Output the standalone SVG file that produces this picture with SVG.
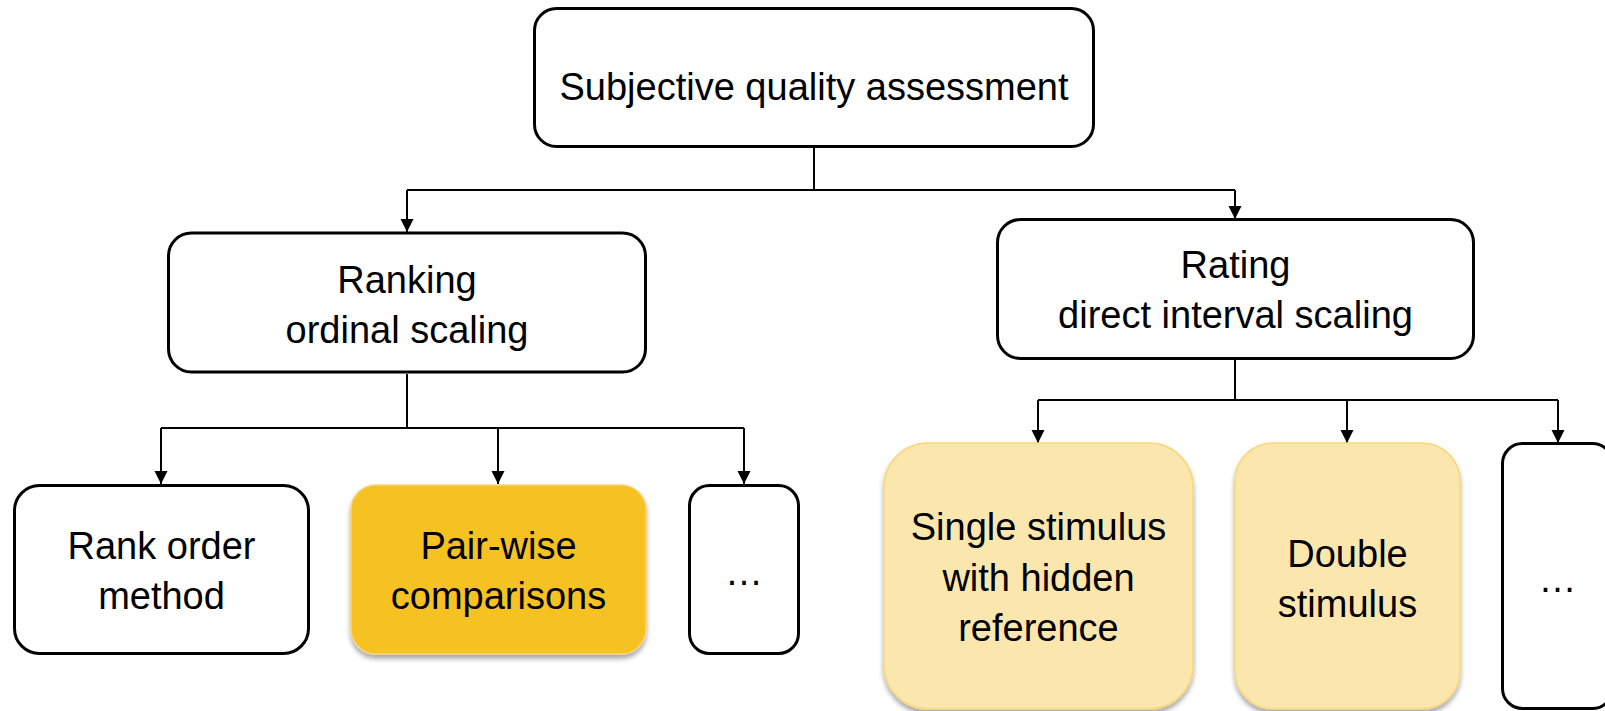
<svg xmlns="http://www.w3.org/2000/svg" width="1605" height="711" viewBox="0 0 1605 711">
  <defs>
    <marker id="arrow" markerWidth="14" markerHeight="14" refX="13" refY="6.5" orient="auto" markerUnits="userSpaceOnUse">
      <path d="M0,0 L13,6.5 L0,13 Z" fill="#000"/>
    </marker>
    <filter id="shadow" x="-10%" y="-10%" width="120%" height="125%">
      <feGaussianBlur in="SourceAlpha" stdDeviation="2.5"/>
      <feOffset dx="0" dy="4" result="blur"/>
      <feComponentTransfer><feFuncA type="linear" slope="0.35"/></feComponentTransfer>
      <feMerge><feMergeNode/><feMergeNode in="SourceGraphic"/></feMerge>
    </filter>
    <style>
      .box { fill: #fff; stroke: #000; stroke-width: 3; }
      .gold { fill: #F6C223; stroke: #F8D27A; stroke-width: 1.5; }
      .pale { fill: #FBE7AE; stroke: #F8D77B; stroke-width: 1.5; }
      .lbl { font-family: "Liberation Sans", Arial, sans-serif; font-size: 38px; fill: #000; text-anchor: middle; }
      .wire { fill: none; stroke: #000; stroke-width: 2; }
      .arr { fill: none; stroke: #000; stroke-width: 2; marker-end: url(#arrow); }
    </style>
  </defs>

  <rect width="1605" height="711" fill="#fff"/>

  <!-- connectors -->
  <g id="connectors">
    <path class="wire" d="M814,148 V190 M407,190 H1235"/>
    <path class="arr" d="M407,190 V232"/>
    <path class="arr" d="M1235,190 V219"/>
    <path class="wire" d="M407,374 V428 M161,428 H744"/>
    <path class="arr" d="M161,428 V484"/>
    <path class="arr" d="M498,428 V484"/>
    <path class="arr" d="M744,428 V484"/>
    <path class="wire" d="M1235,360 V400 M1038,400 H1558"/>
    <path class="arr" d="M1038,400 V443"/>
    <path class="arr" d="M1347,400 V443"/>
    <path class="arr" d="M1558,400 V443"/>
  </g>

  <g id="subjective-quality-assessment">
    <rect class="box" x="534.5" y="8.5" width="559" height="138" rx="22"/>
    <text class="lbl" x="814" y="100">Subjective quality assessment</text>
  </g>

  <g id="ranking">
    <rect class="box" x="168.5" y="233" width="477" height="139" rx="23"/>
    <text class="lbl" x="407" y="293">Ranking</text>
    <text class="lbl" x="407" y="343">ordinal scaling</text>
  </g>

  <g id="rating">
    <rect class="box" x="997.5" y="219.5" width="476" height="139" rx="23"/>
    <text class="lbl" x="1235.5" y="278">Rating</text>
    <text class="lbl" x="1235.5" y="328">direct interval scaling</text>
  </g>

  <g id="rank-order-method">
    <rect class="box" x="14.5" y="485.5" width="294" height="168" rx="25"/>
    <text class="lbl" x="161.5" y="559">Rank order</text>
    <text class="lbl" x="161.5" y="609">method</text>
  </g>

  <g id="pair-wise-comparisons">
    <rect class="gold" x="351" y="485" width="295" height="169" rx="25" filter="url(#shadow)"/>
    <text class="lbl" x="498.5" y="559">Pair-wise</text>
    <text class="lbl" x="498.5" y="609">comparisons</text>
  </g>

  <g id="ranking-more">
    <rect class="box" x="689.5" y="485.5" width="109" height="168" rx="20"/>
    <text class="lbl" x="744" y="585">…</text>
  </g>

  <g id="single-stimulus">
    <rect class="pale" x="884" y="443" width="309" height="266" rx="44" filter="url(#shadow)"/>
    <text class="lbl" x="1038.5" y="540">Single stimulus</text>
    <text class="lbl" x="1038.5" y="591">with hidden</text>
    <text class="lbl" x="1038.5" y="641">reference</text>
  </g>

  <g id="double-stimulus">
    <rect class="pale" x="1235" y="443" width="225" height="266" rx="38" filter="url(#shadow)"/>
    <text class="lbl" x="1347.5" y="567">Double</text>
    <text class="lbl" x="1347.5" y="617">stimulus</text>
  </g>

  <g id="rating-more">
    <rect class="box" x="1502.5" y="443.5" width="110" height="265" rx="20"/>
    <text class="lbl" x="1557.5" y="592">…</text>
  </g>
</svg>
